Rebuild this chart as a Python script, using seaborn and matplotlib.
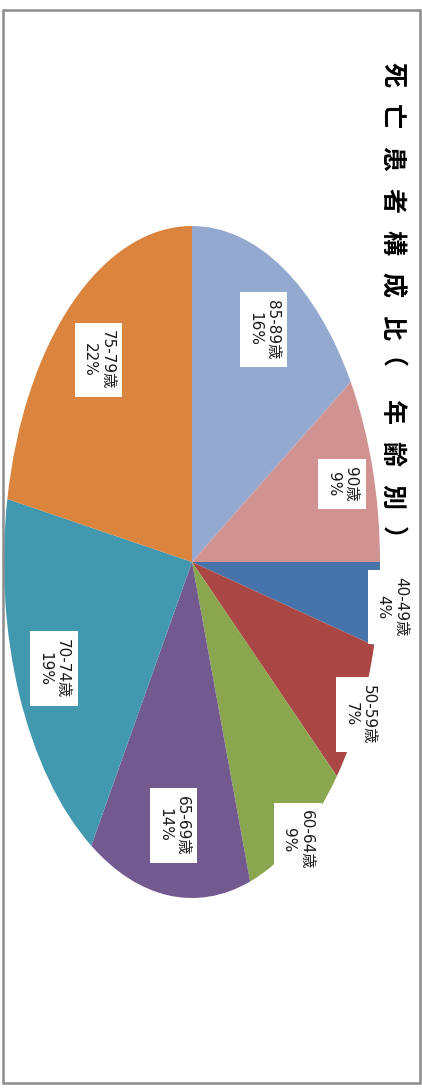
import numpy as np
import matplotlib
matplotlib.use('Agg')
import matplotlib.pyplot as plt
from matplotlib.patches import Rectangle
from matplotlib.font_manager import FontProperties, findfont, get_font
from matplotlib.transforms import offset_copy
import seaborn as sns

# Data (pie starts at the top of the original chart, clockwise)
age_groups = ['40-49歳', '50-59歳', '60-64歳', '65-69歳', '70-74歳', '75-79歳', '85-89歳', '90歳']
shares = [4, 7, 9, 14, 19, 22, 16, 9]
slice_colors = ['#4674AA', '#AA4644', '#8AA64E', '#725A8F', '#4298AF', '#DB843E', '#94A9D0', '#D19392']
title = '死亡患者構成比（年齢別）'

# how far out each label sits (fraction of radius)
label_radius = [1.07, 1.0, 1.0, 0.79, 0.80, 0.78, 0.79, 0.83]

sns.set_theme(style='white')
plt.rcParams['font.family'] = ['DejaVu Sans', 'Noto Sans CJK JP']

fig = plt.figure(figsize=(4.22, 10.9), dpi=100)

# The whole chart is turned a quarter turn clockwise: the pie is a stretched
# circle, so it is drawn in an axes with auto aspect
ax = fig.add_axes([4 / 422, (1090 - 898) / 1090, 376 / 422, 672 / 1090])
palette = sns.color_palette(slice_colors)
ax.pie(shares, colors=palette, startangle=0, counterclock=False, radius=1,
       wedgeprops=dict(linewidth=0))
ax.set_aspect('auto')
ax.set_xlim(-1, 1)
ax.set_ylim(-1, 1)
ax.axis('off')

# Labels in white boxes, rotated with the chart
total = float(np.sum(shares))
cum = np.cumsum(shares) - np.array(shares) / 2.0
for grp, val, mid, r in zip(age_groups, shares, cum, label_radius):
    theta = -np.deg2rad(mid / total * 360.0)
    x = r * np.cos(theta)
    y = r * np.sin(theta)
    ax.text(x, y, f'{grp}\n{val}%', rotation=-90, ha='center', va='center',
            rotation_mode='anchor', fontsize=11, color='#1a1a1a', linespacing=1.2,
            multialignment='center', zorder=5, clip_on=False,
            bbox=dict(boxstyle='square,pad=0.5', fc='white', ec='none'))

# Title, letter-spaced down the right side (baseline kept on one line).
# Rotated glyphs get pushed sideways by their left bearing (big for the
# full-width brackets), so take that back out.
title_size = 18
fp = FontProperties(family='Noto Sans CJK JP', weight='bold')
ft = get_font(findfont(fp))
ft.set_size(title_size, 100)
for i, ch in enumerate(title):
    lsb = ft.load_char(ord(ch)).horiBearingX / 64.0
    tr = offset_copy(fig.transFigure, fig=fig, x=-lsb * 72 / 100, y=0, units='points')
    fig.text(385 / 422, 1 - (74 + i * 42.2) / 1090, ch, rotation=-90,
             ha='center', va='baseline', rotation_mode='anchor', transform=tr,
             fontsize=title_size, fontweight='bold', color='black',
             family=['Noto Sans CJK JP', 'DejaVu Sans'])

# grey chart frame
fig.patches.append(Rectangle((3 / 422, 1 - 1083 / 1090), 417 / 422, 1073 / 1090,
                             transform=fig.transFigure, fill=False,
                             edgecolor='#8c8c8c', linewidth=1.8, zorder=10))

fig.savefig('out.png', dpi=100)
